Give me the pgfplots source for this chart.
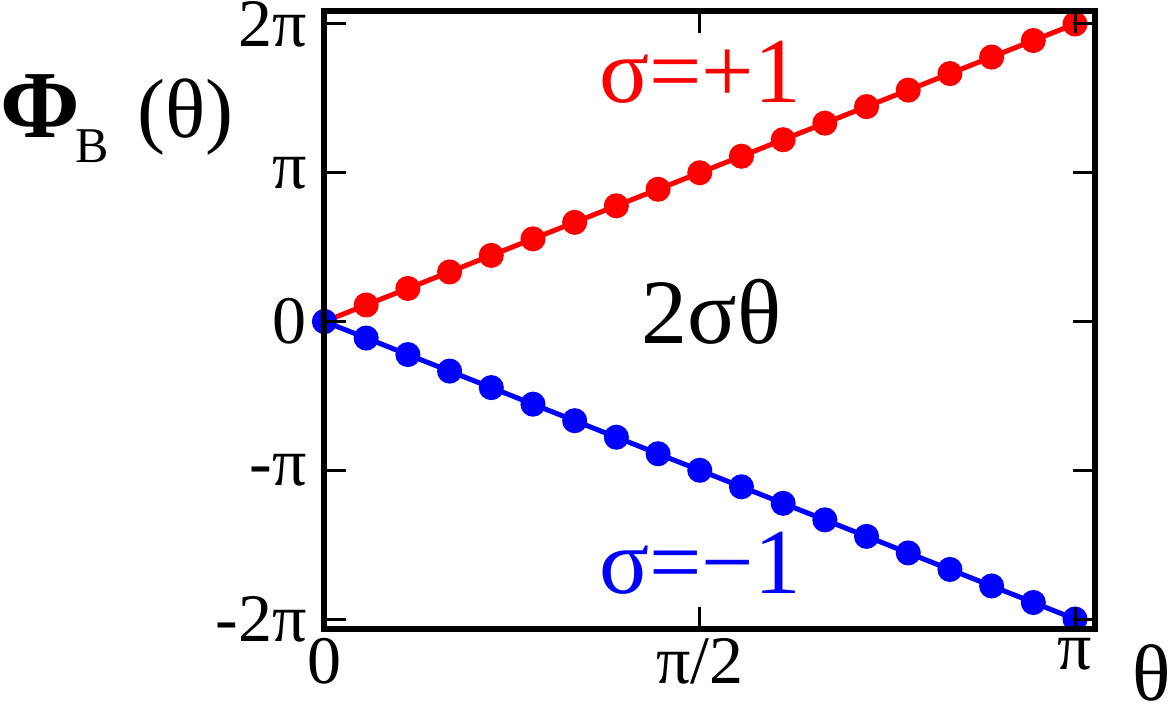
\documentclass[border=0pt]{standalone}
\usepackage{fontspec}
\setmainfont{Liberation Serif}
\usepackage{pgfplots}
\pgfplotsset{compat=1.18}
\definecolor{myred}{RGB}{255,0,0}
\definecolor{myblue}{RGB}{0,0,255}
\begin{document}
\begin{tikzpicture}
\begin{axis}[
  set layers,
  at={(0,0)}, anchor=south west,
  scale only axis, width=770.5pt, height=617.5pt,
  xmin=0, xmax=1.0266, ymin=-2.067, ymax=2.084,
  axis on top,
  axis line style={line width=6pt},
  every tick/.style={black, line width=3pt},
  major tick length=22pt,
  xtick={0,0.5,1}, xticklabels={0,π/2,π},
  ytick={-2,-1,0,1,2}, yticklabels={-2π,-π,0,π,2π},
  tick label style={font=\fontsize{68}{74}\selectfont},
  xticklabel style={yshift=-6pt},
  yticklabel style={xshift=-14pt},
  clip=false,
]
\addplot[myred, line width=5pt, mark=*, mark size=10pt] coordinates {
(0,0) (0.05556,0.11111) (0.11111,0.22222) (0.16667,0.33333) (0.22222,0.44444)
(0.27778,0.55556) (0.33333,0.66667) (0.38889,0.77778) (0.44444,0.88889) (0.5,1)
(0.55556,1.11111) (0.61111,1.22222) (0.66667,1.33333) (0.72222,1.44444) (0.77778,1.55556)
(0.83333,1.66667) (0.88889,1.77778) (0.94444,1.88889) (1,2)};
\addplot[myblue, line width=5pt, mark=*, mark size=10pt] coordinates {
(0,0) (0.05556,-0.11111) (0.11111,-0.22222) (0.16667,-0.33333) (0.22222,-0.44444)
(0.27778,-0.55556) (0.33333,-0.66667) (0.38889,-0.77778) (0.44444,-0.88889) (0.5,-1)
(0.55556,-1.11111) (0.61111,-1.22222) (0.66667,-1.33333) (0.72222,-1.44444) (0.77778,-1.55556)
(0.83333,-1.66667) (0.88889,-1.77778) (0.94444,-1.88889) (1,-2)};
\node[text=myred, font=\fontsize{93}{98}\selectfont, anchor=base, inner sep=0pt] at (axis cs:0.5,1.469) {σ=+1};
\node[text=myblue, font=\fontsize{93}{98}\selectfont, anchor=base, inner sep=0pt] at (axis cs:0.5,-1.825) {σ=−1};
\node[font=\fontsize{92}{98}\selectfont, anchor=base, inner sep=0pt] at (axis cs:0.516,-0.145) {2σθ};
\node[font=\fontsize{80}{86}\selectfont, anchor=base, inner sep=0pt] at (axis cs:1.102,-2.545) {θ};
\node[anchor=base west, inner sep=0pt] at (axis cs:-0.4324,1.240) {\fontsize{96}{100}\selectfont\textbf{Φ}\kern-4pt\raisebox{-25pt}{\fontsize{50}{54}\selectfont B}\hspace{28pt}\fontsize{84}{90}\selectfont(θ)};
\end{axis}
\pgfresetboundingbox
\path[use as bounding box] (-324.5pt,-76pt) rectangle (846.5pt,629pt);
\end{tikzpicture}
\end{document}
